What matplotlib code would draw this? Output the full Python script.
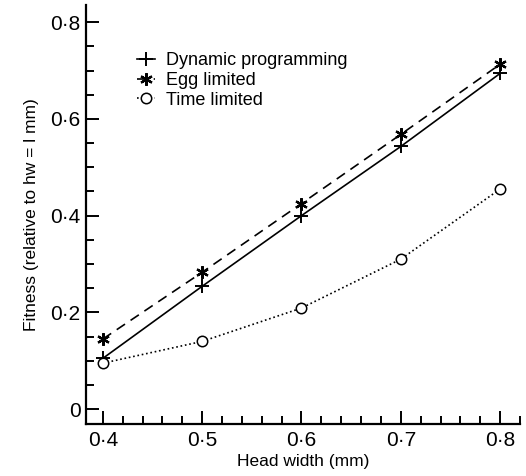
import numpy as np
import matplotlib
matplotlib.use('Agg')
import matplotlib.pyplot as plt
from matplotlib.ticker import MultipleLocator, FuncFormatter

plt.rcParams['font.family'] = ['Liberation Sans', 'DejaVu Sans']

# head width (mm) and fitness relative to hw = 1 mm
head_width = [0.4, 0.5, 0.6, 0.7, 0.8]
dynamic = [0.105, 0.254, 0.400, 0.543, 0.694]
egg_limited = [0.145, 0.283, 0.425, 0.568, 0.713]
time_limited = [0.095, 0.140, 0.209, 0.310, 0.455]


def dot_fmt(v, pos):
    if abs(v) < 1e-9:
        return '0'
    return ('%.1f' % v).replace('.', '\u00b7')


fig = plt.figure(figsize=(5.26, 4.76), dpi=100)
ax = fig.add_axes([0.1635, 0.109, 0.825, 0.88])

ax.plot(head_width, dynamic, '-', color='black', lw=1.2,
        marker='+', ms=10, mew=1.4, label='Dynamic programming')
ax.plot(head_width, egg_limited, '--', color='black', lw=1.2, dashes=(6, 4),
        marker=(6, 2, 0), ms=9, mew=1.6, label='Egg limited')
ax.plot(head_width, time_limited, ':', color='black', lw=1.2,
        marker='o', ms=7.5, mfc='white', mec='black', mew=1.1, label='Time limited')

ax.set_xlim(0.383, 0.82)
ax.set_ylim(-0.031, 0.835)

ax.xaxis.set_major_locator(MultipleLocator(0.1))
ax.xaxis.set_minor_locator(MultipleLocator(0.02))
ax.yaxis.set_major_locator(MultipleLocator(0.2))
ax.yaxis.set_minor_locator(MultipleLocator(0.05))
ax.xaxis.set_major_formatter(FuncFormatter(dot_fmt))
ax.yaxis.set_major_formatter(FuncFormatter(dot_fmt))

ax.tick_params(which='both', direction='in', width=1.4, labelsize=15)
ax.tick_params(which='major', length=9.5)
ax.tick_params(which='minor', length=6)
ax.tick_params(axis='x', pad=5)
ax.tick_params(axis='y', pad=4)

for side in ['top', 'right']:
    ax.spines[side].set_visible(False)
for side in ['left', 'bottom']:
    ax.spines[side].set_linewidth(1.6)

ax.set_xlabel('Head width (mm)', fontsize=12.5, labelpad=3)
ax.set_ylabel('Fitness (relative to hw = l mm)', fontsize=12.5, labelpad=8)

ax.legend(loc='upper left', bbox_to_anchor=(0.1, 0.905), frameon=False,
          fontsize=13, handlelength=1.0, handletextpad=0.6, labelspacing=0.15,
          borderaxespad=0)

fig.savefig('out.png', dpi=100)
